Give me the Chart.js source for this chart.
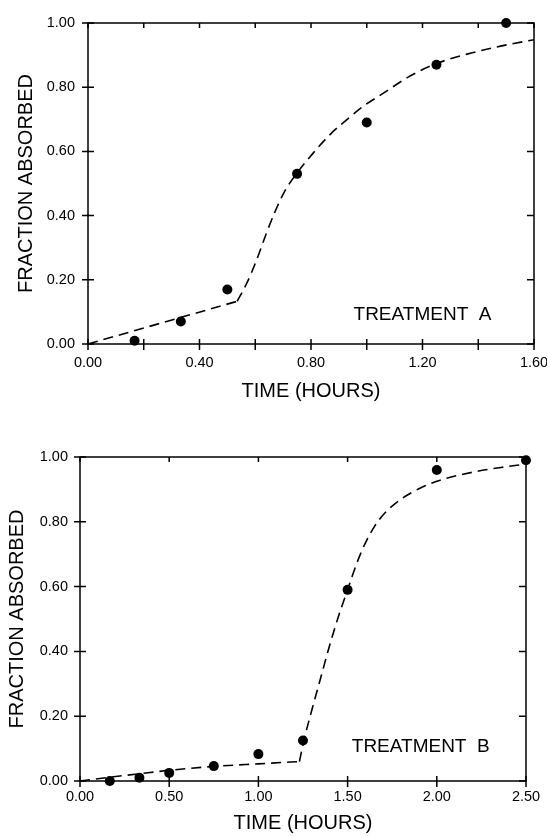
<!DOCTYPE html>
<html>
<head>
<meta charset="utf-8">
<script src="https://cdn.jsdelivr.net/npm/chart.js@4/dist/chart.umd.min.js"></script>
<style>
  body { margin: 0; background: #fff; }
  canvas { display: block; }
</style>
</head>
<body>
<canvas id="chartA" width="547" height="418"></canvas>
<canvas id="chartB" width="547" height="418"></canvas>
<script>
// Treatment A - measured points
const timeA = [0.167, 0.333, 0.5, 0.75, 1.0, 1.25, 1.5];
const fracA = [0.01, 0.07, 0.17, 0.53, 0.69, 0.87, 1.0];
// Treatment A - fitted curve (lag part, then rising part)
const fitTimeA1 = [0, 0.535];
const fitFracA1 = [0, 0.133];
const fitTimeA2 = [0.535, 0.57, 0.605, 0.64, 0.67, 0.705, 0.745, 0.81, 0.87, 0.93, 0.99, 1.05, 1.15, 1.245, 1.36, 1.48, 1.6];
const fitFracA2 = [0.133, 0.19, 0.262, 0.345, 0.41, 0.475, 0.527, 0.597, 0.654, 0.70, 0.742, 0.776, 0.832, 0.872, 0.903, 0.928, 0.948];

// Treatment B - measured points
const timeB = [0.167, 0.333, 0.5, 0.75, 1.0, 1.25, 1.5, 2.0, 2.5];
const fracB = [0.0, 0.01, 0.025, 0.046, 0.083, 0.125, 0.59, 0.96, 0.99];
// Treatment B - fitted curve
const fitTimeB1 = [0, 0.17, 0.33, 0.5, 0.75, 1.0, 1.23];
const fitFracB1 = [0, 0.012, 0.022, 0.033, 0.045, 0.053, 0.06];
const fitTimeB2 = [1.23, 1.255, 1.3, 1.35, 1.4, 1.45, 1.5, 1.55, 1.6, 1.65, 1.7, 1.8, 1.9, 2.0, 2.2, 2.35, 2.5];
const fitFracB2 = [0.06, 0.125, 0.22, 0.32, 0.42, 0.51, 0.59, 0.67, 0.735, 0.785, 0.822, 0.87, 0.902, 0.925, 0.953, 0.967, 0.978];

// tick labels
const yTickLabels = ['0.00', '0.20', '0.40', '0.60', '0.80', '1.00'];
const xTickLabelsA = ['0.00', '0.40', '0.80', '1.20', '1.60'];
const xTickLabelsB = ['0.00', '0.50', '1.00', '1.50', '2.00', '2.50'];

const FONT = "'Liberation Sans', Arial, sans-serif";

function pts(xs, ys) {
    return xs.map((x, i) => ({ x: x, y: ys[i] }));
}

// frame, crossing tick marks and the treatment label
const frameTicks = {
    id: 'frameTicks',
    afterDraw(chart, args, opts) {
        const { ctx, chartArea: a, scales: { x, y } } = chart;
        ctx.save();
        ctx.strokeStyle = '#000';
        ctx.lineWidth = 1.5;
        ctx.strokeRect(a.left, a.top, a.right - a.left, a.bottom - a.top);
        ctx.beginPath();
        x.ticks.forEach(t => {
            const px = x.getPixelForValue(t.value);
            ctx.moveTo(px, a.bottom - opts.xUp);
            ctx.lineTo(px, a.bottom + opts.xDown);
            ctx.moveTo(px, a.top);
            ctx.lineTo(px, a.top + 5);
        });
        y.ticks.forEach(t => {
            const py = y.getPixelForValue(t.value);
            ctx.moveTo(a.left - 6, py);
            ctx.lineTo(a.left + 6, py);
            ctx.moveTo(a.right - 7, py);
            ctx.lineTo(a.right, py);
        });
        ctx.stroke();
        ctx.fillStyle = '#000';
        ctx.font = '19px ' + FONT;
        ctx.textAlign = 'center';
        ctx.textBaseline = 'middle';
        ctx.fillText(opts.label, x.getPixelForValue(opts.at[0]), y.getPixelForValue(opts.at[1]));
        ctx.restore();
    }
};

function makeChart(id, cfg) {
    const curveStyle = {
        showLine: true,
        borderColor: '#000',
        borderWidth: 1.6,
        borderDash: [10, 6],
        pointRadius: 0,
        fill: false,
        clip: false,
        cubicInterpolationMode: 'monotone'
    };
    return new Chart(document.getElementById(id), {
        type: 'scatter',
        data: {
            datasets: [
                Object.assign({ data: cfg.fit1 }, curveStyle),
                Object.assign({ data: cfg.fit2 }, curveStyle),
                {
                    data: cfg.points,
                    showLine: false,
                    pointRadius: 5,
                    pointBackgroundColor: '#000',
                    pointBorderWidth: 0,
                    clip: false
                }
            ]
        },
        options: {
            responsive: false,
            animation: false,
            layout: { padding: { left: 0, top: cfg.padTop, right: cfg.padRight, bottom: 0 } },
            plugins: {
                legend: { display: false },
                tooltip: { enabled: false },
                frameTicks: { label: cfg.label, at: cfg.labelAt, xUp: 5, xDown: 6 }
            },
            scales: {
                x: {
                    type: 'linear',
                    min: 0,
                    max: cfg.xMax,
                    grid: { display: false, drawTicks: false },
                    border: { display: false },
                    ticks: {
                        stepSize: cfg.xStep,
                        autoSkip: false,
                        maxRotation: 0,
                        padding: cfg.xTickPad,
                        color: '#000',
                        font: { family: FONT, size: 14.5 },
                        callback: (v) => {
                            const s = v.toFixed(2);
                            return cfg.xLabels.includes(s) ? s : '';
                        }
                    },
                    title: {
                        display: true,
                        text: 'TIME (HOURS)',
                        color: '#000',
                        font: { family: FONT, size: 20 },
                        padding: { top: 0, bottom: cfg.xTitlePad }
                    },
                    afterFit: (s) => { s.height = cfg.xHeight; s.paddingLeft = 0; s.paddingRight = 0; }
                },
                y: {
                    min: 0,
                    max: 1,
                    grid: { display: false, drawTicks: false },
                    border: { display: false },
                    ticks: {
                        stepSize: 0.2,
                        padding: cfg.yTickPad,
                        color: '#000',
                        font: { family: FONT, size: 14.5 },
                        callback: (v) => yTickLabels[Math.round(v * 5)]
                    },
                    title: {
                        display: true,
                        text: 'FRACTION ABSORBED',
                        color: '#000',
                        font: { family: FONT, size: 20 },
                        padding: { top: cfg.yTitlePad, bottom: 0 }
                    },
                    afterFit: (s) => { s.width = cfg.yWidth; s.paddingTop = 0; s.paddingBottom = 0; }
                }
            }
        },
        plugins: [frameTicks]
    });
}

makeChart('chartA', {
    fit1: pts(fitTimeA1, fitFracA1),
    fit2: pts(fitTimeA2, fitFracA2),
    points: pts(timeA, fracA),
    xMax: 1.6, xStep: 0.2, xLabels: xTickLabelsA,
    padTop: 23, padRight: 13,
    xHeight: 74, yWidth: 88,
    xTickPad: 10, yTickPad: 13,
    xTitlePad: 15, yTitlePad: 14,
    label: 'TREATMENT  A', labelAt: [1.20, 0.09]
});

makeChart('chartB', {
    fit1: pts(fitTimeB1, fitFracB1),
    fit2: pts(fitTimeB2, fitFracB2),
    points: pts(timeB, fracB),
    xMax: 2.5, xStep: 0.5, xLabels: xTickLabelsB,
    padTop: 39, padRight: 21,
    xHeight: 55, yWidth: 80,
    xTickPad: 7, yTickPad: 12,
    xTitlePad: 1, yTitlePad: 5,
    label: 'TREATMENT  B', labelAt: [1.91, 0.105]
});
</script>
</body>
</html>
